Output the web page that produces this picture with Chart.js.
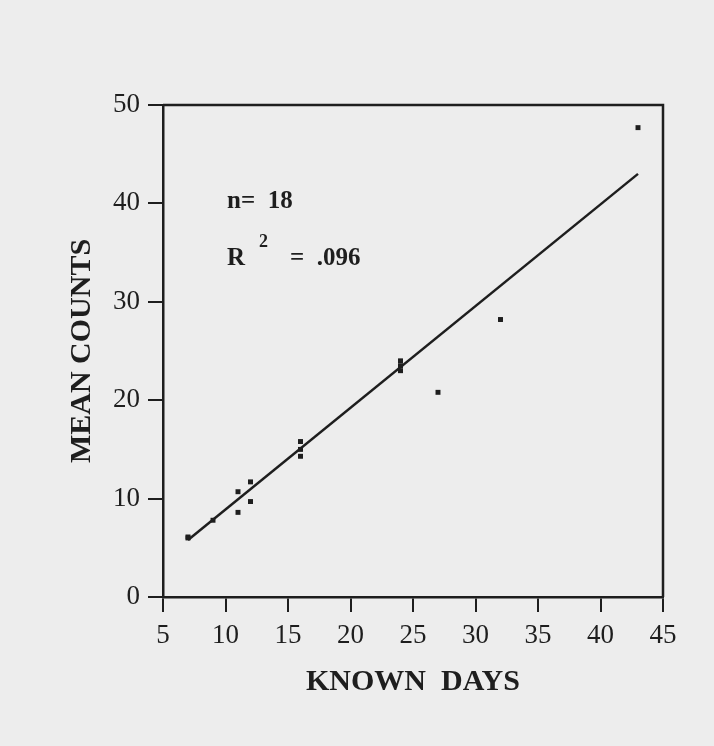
<!DOCTYPE html>
<html>
<head>
<meta charset="utf-8">
<script src="https://cdn.jsdelivr.net/npm/chart.js@4/dist/chart.umd.min.js"></script>
<style>
  html, body { margin: 0; padding: 0; background: #ededed; }
  #wrap { width: 714px; height: 746px; position: relative; }
</style>
</head>
<body>
<div id="wrap"><canvas id="chart"></canvas></div>
<script>
// observed points (known days vs mean counts)
const knownDays  = [7, 7, 9, 11, 11, 12, 12, 16, 16, 16, 24, 24, 24, 27, 32, 43];
const meanCounts = [6, 6.1, 7.8, 10.7, 8.6, 11.7, 9.7, 15.8, 14.3, 15, 24, 23, 23.5, 20.8, 28.2, 47.7];

// fitted line end points
const fitDays   = [7, 43];
const fitCounts = [5.8, 43.0];

const xTicks = [5, 10, 15, 20, 25, 30, 35, 40, 45];
const yTicks = [0, 10, 20, 30, 40, 50];

const ink = '#1e1e1e';
const serif = "'Liberation Serif', 'DejaVu Serif', serif";

// draws top + right edges of the plot box and the n / R2 note
const boxAndNote = {
    id: 'boxAndNote',
    afterDraw: function(chart) {
        const ctx = chart.ctx;
        const a = chart.chartArea;
        ctx.save();
        ctx.strokeStyle = ink;
        ctx.lineWidth = 2.5;
        ctx.beginPath();
        ctx.moveTo(a.left, a.top);
        ctx.lineTo(a.right, a.top);
        ctx.lineTo(a.right, a.bottom);
        ctx.stroke();

        ctx.fillStyle = ink;
        ctx.textBaseline = 'alphabetic';
        ctx.font = 'bold 25px ' + serif;
        ctx.fillText('n=  18', a.left + 64, a.top + 103);
        ctx.fillText('R', a.left + 64, a.top + 160);
        ctx.fillText('=  .096', a.left + 127, a.top + 160);
        ctx.font = 'bold 18px ' + serif;
        ctx.fillText('2', a.left + 96, a.top + 142);
        ctx.restore();
    }
};

const ctx = document.getElementById('chart').getContext('2d');
new Chart(ctx, {
    type: 'scatter',
    plugins: [boxAndNote],
    data: {
        datasets: [
            {
                label: 'Observed',
                data: knownDays.map((d, i) => ({ x: d, y: meanCounts[i] })),
                pointStyle: 'rect',
                pointRadius: 3.5,
                backgroundColor: ink,
                borderColor: ink,
                borderWidth: 0
            },
            {
                label: 'Fit',
                type: 'line',
                data: fitDays.map((d, i) => ({ x: d, y: fitCounts[i] })),
                showLine: true,
                borderColor: ink,
                borderWidth: 2.5,
                pointRadius: 0,
                fill: false
            }
        ]
    },
    options: {
        responsive: true,
        maintainAspectRatio: false,
        animation: false,
        layout: {
            padding: { top: 105, right: 51, left: 0, bottom: 0 }
        },
        plugins: {
            legend: { display: false },
            tooltip: { enabled: false }
        },
        scales: {
            x: {
                type: 'linear',
                min: xTicks[0],
                max: xTicks[xTicks.length - 1],
                afterBuildTicks: function(scale) {
                    scale.ticks = xTicks.map(v => ({ value: v }));
                },
                afterFit: function(scale) { scale.height = 149; },
                ticks: {
                    color: ink,
                    padding: 8,
                    font: { family: serif, size: 27 }
                },
                grid: {
                    drawOnChartArea: false,
                    drawTicks: true,
                    tickLength: 15,
                    color: ink,
                    lineWidth: 2
                },
                border: { color: ink, width: 2.5 },
                title: {
                    display: true,
                    text: 'KNOWN  DAYS',
                    color: ink,
                    font: { family: serif, size: 30, weight: 'bold' },
                    padding: { top: 0, bottom: 46 }
                }
            },
            y: {
                min: yTicks[0],
                max: yTicks[yTicks.length - 1],
                afterBuildTicks: function(scale) {
                    scale.ticks = yTicks.map(v => ({ value: v }));
                },
                afterFit: function(scale) { scale.width = 163; },
                ticks: {
                    color: ink,
                    padding: 8,
                    font: { family: serif, size: 27 }
                },
                grid: {
                    drawOnChartArea: false,
                    drawTicks: true,
                    tickLength: 15,
                    color: ink,
                    lineWidth: 2
                },
                border: { color: ink, width: 2.5 },
                title: {
                    display: true,
                    text: 'MEAN COUNTS',
                    color: ink,
                    font: { family: serif, size: 30, weight: 'bold' },
                    padding: { top: 64, bottom: 0 }
                }
            }
        }
    }
});
</script>
</body>
</html>
